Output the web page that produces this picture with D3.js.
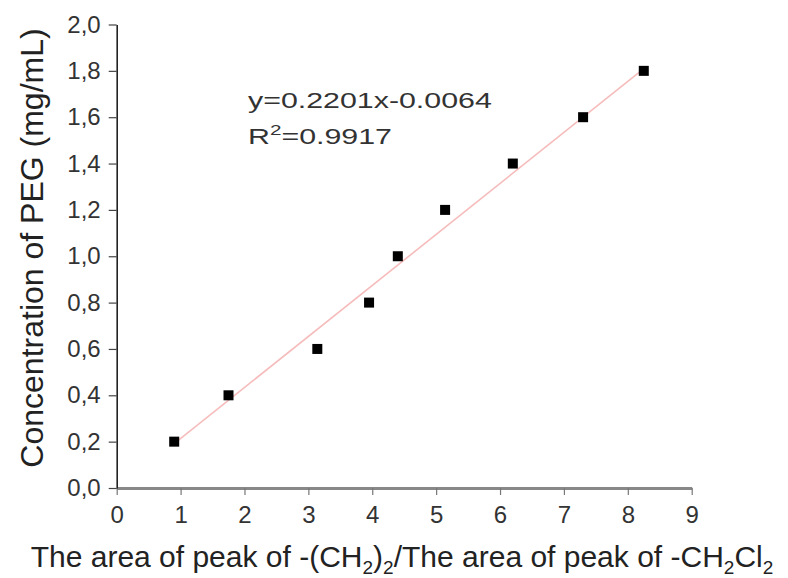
<!DOCTYPE html>
<html>
<head>
<meta charset="utf-8">
<script src="https://cdn.jsdelivr.net/npm/d3@7"></script>
<style>
  body { margin: 0; background: #fff; }
  svg { display: block; font-family: "Liberation Sans", Arial, sans-serif; }
</style>
</head>
<body>
<script>
// measured points: peak area ratio vs PEG concentration
var ratio = [0.9, 1.75, 3.14, 3.95, 4.4, 5.14, 6.2, 7.3, 8.25];
var conc = [0.2, 0.4, 0.6, 0.8, 1.0, 1.2, 1.4, 1.6, 1.8];

// linear fit shown in the chart
var fitSlope = 0.2201,
    fitIntercept = -0.0064,
    fitR2 = '0.9917';

var xTicks = [0, 1, 2, 3, 4, 5, 6, 7, 8, 9];
var yTicks = [0, 0.2, 0.4, 0.6, 0.8, 1.0, 1.2, 1.4, 1.6, 1.8, 2.0];

var width = 788,
    height = 578;

var svg = d3.select('body')
    .append('svg')
    .attr('width', width)
    .attr('height', height)

var xScale = d3.scaleLinear()
    .domain([0, 9])
    .range([116.7, 691.7])
var yScale = d3.scaleLinear()
    .domain([0, 2])
    .range([488, 24.5])

var commaFmt = d => d3.format('.1f')(d).replace('.', ',')

// x axis
var xAxis = d3.axisBottom(xScale)
    .tickValues(xTicks)
    .tickSizeInner(7)
    .tickSizeOuter(0)
    .tickPadding(11)
    .tickFormat(d3.format('d'))

var gx = svg.append('g')
    .attr('transform', `translate(0, ${yScale(0)})`)
    .call(xAxis)
gx.select('.domain').attr('stroke', '#888').attr('stroke-width', 3)
gx.selectAll('.tick line').attr('stroke', '#777').attr('stroke-width', 1.2)
gx.selectAll('.tick text')
    .attr('fill', '#333')
    .style('font-size', '24px')

// y axis
var yAxis = d3.axisLeft(yScale)
    .tickValues(yTicks)
    .tickSizeInner(8)
    .tickSizeOuter(0)
    .tickPadding(8)
    .tickFormat(commaFmt)

var gy = svg.append('g')
    .attr('transform', `translate(${xScale(0)}, 0)`)
    .call(yAxis)
gy.select('.domain').attr('stroke', '#222').attr('stroke-width', 1.6)
gy.selectAll('.tick line').attr('stroke', '#444').attr('stroke-width', 1.2)
gy.selectAll('.tick text')
    .attr('fill', '#333')
    .style('font-size', '24px')

// fit line across the data range
var xExt = d3.extent(ratio)
var fitPts = xExt.map(x => ({x: x, y: fitSlope * x + fitIntercept}))

var line = d3.line()
    .x(d => xScale(d.x))
    .y(d => yScale(d.y))

svg.append('path')
    .attr('d', line(fitPts))
    .attr('style', 'fill: none; stroke: #f6bcbc; stroke-width: 1.6px;')

// square markers
var sz = 10
svg.append('g')
    .selectAll('rect')
    .data(ratio)
    .join('rect')
    .attr('x', (d, i) => xScale(d) - sz / 2)
    .attr('y', (d, i) => yScale(conc[i]) - sz / 2)
    .attr('width', sz)
    .attr('height', sz)
    .attr('fill', '#000')

// equation annotation (text is stretched wide in the original)
var ann = svg.append('g')
    .attr('transform', 'translate(248, 0) scale(1.38, 1)')
    .attr('fill', '#333')
    .style('font-size', '22px')

ann.append('text')
    .attr('x', 0)
    .attr('y', 108)
    .text(`y=${fitSlope}x-${Math.abs(fitIntercept).toFixed(4)}`)

var r2 = ann.append('text')
    .attr('x', 0)
    .attr('y', 144)
r2.append('tspan').text('R')
r2.append('tspan').attr('dy', -9).style('font-size', '15px').text('2')
r2.append('tspan').attr('dy', 9).text('=' + fitR2)

// x title with subscripts
var xt = svg.append('text')
    .attr('x', 402)
    .attr('y', 567)
    .attr('text-anchor', 'middle')
    .attr('fill', '#222')
    .style('font-size', '30px')

var parts = [
    ['The area of peak of -(CH', 0],
    ['2', 1],
    [')', 0],
    ['2', 1],
    ['/The area of peak of -CH', 0],
    ['2', 1],
    ['Cl', 0],
    ['2', 1]
]
var sub = 7
var shifted = 0
parts.forEach(p => {
    var dy = p[1] ? sub - shifted : -shifted
    shifted = p[1] ? sub : 0
    xt.append('tspan')
        .attr('dy', dy)
        .style('font-size', p[1] ? '19px' : '30px')
        .text(p[0])
})

// y title
svg.append('text')
    .attr('transform', 'translate(43, 248) rotate(-90)')
    .attr('text-anchor', 'middle')
    .attr('fill', '#222')
    .style('font-size', '32px')
    .text('Concentration of PEG (mg/mL)')
</script>
</body>
</html>
